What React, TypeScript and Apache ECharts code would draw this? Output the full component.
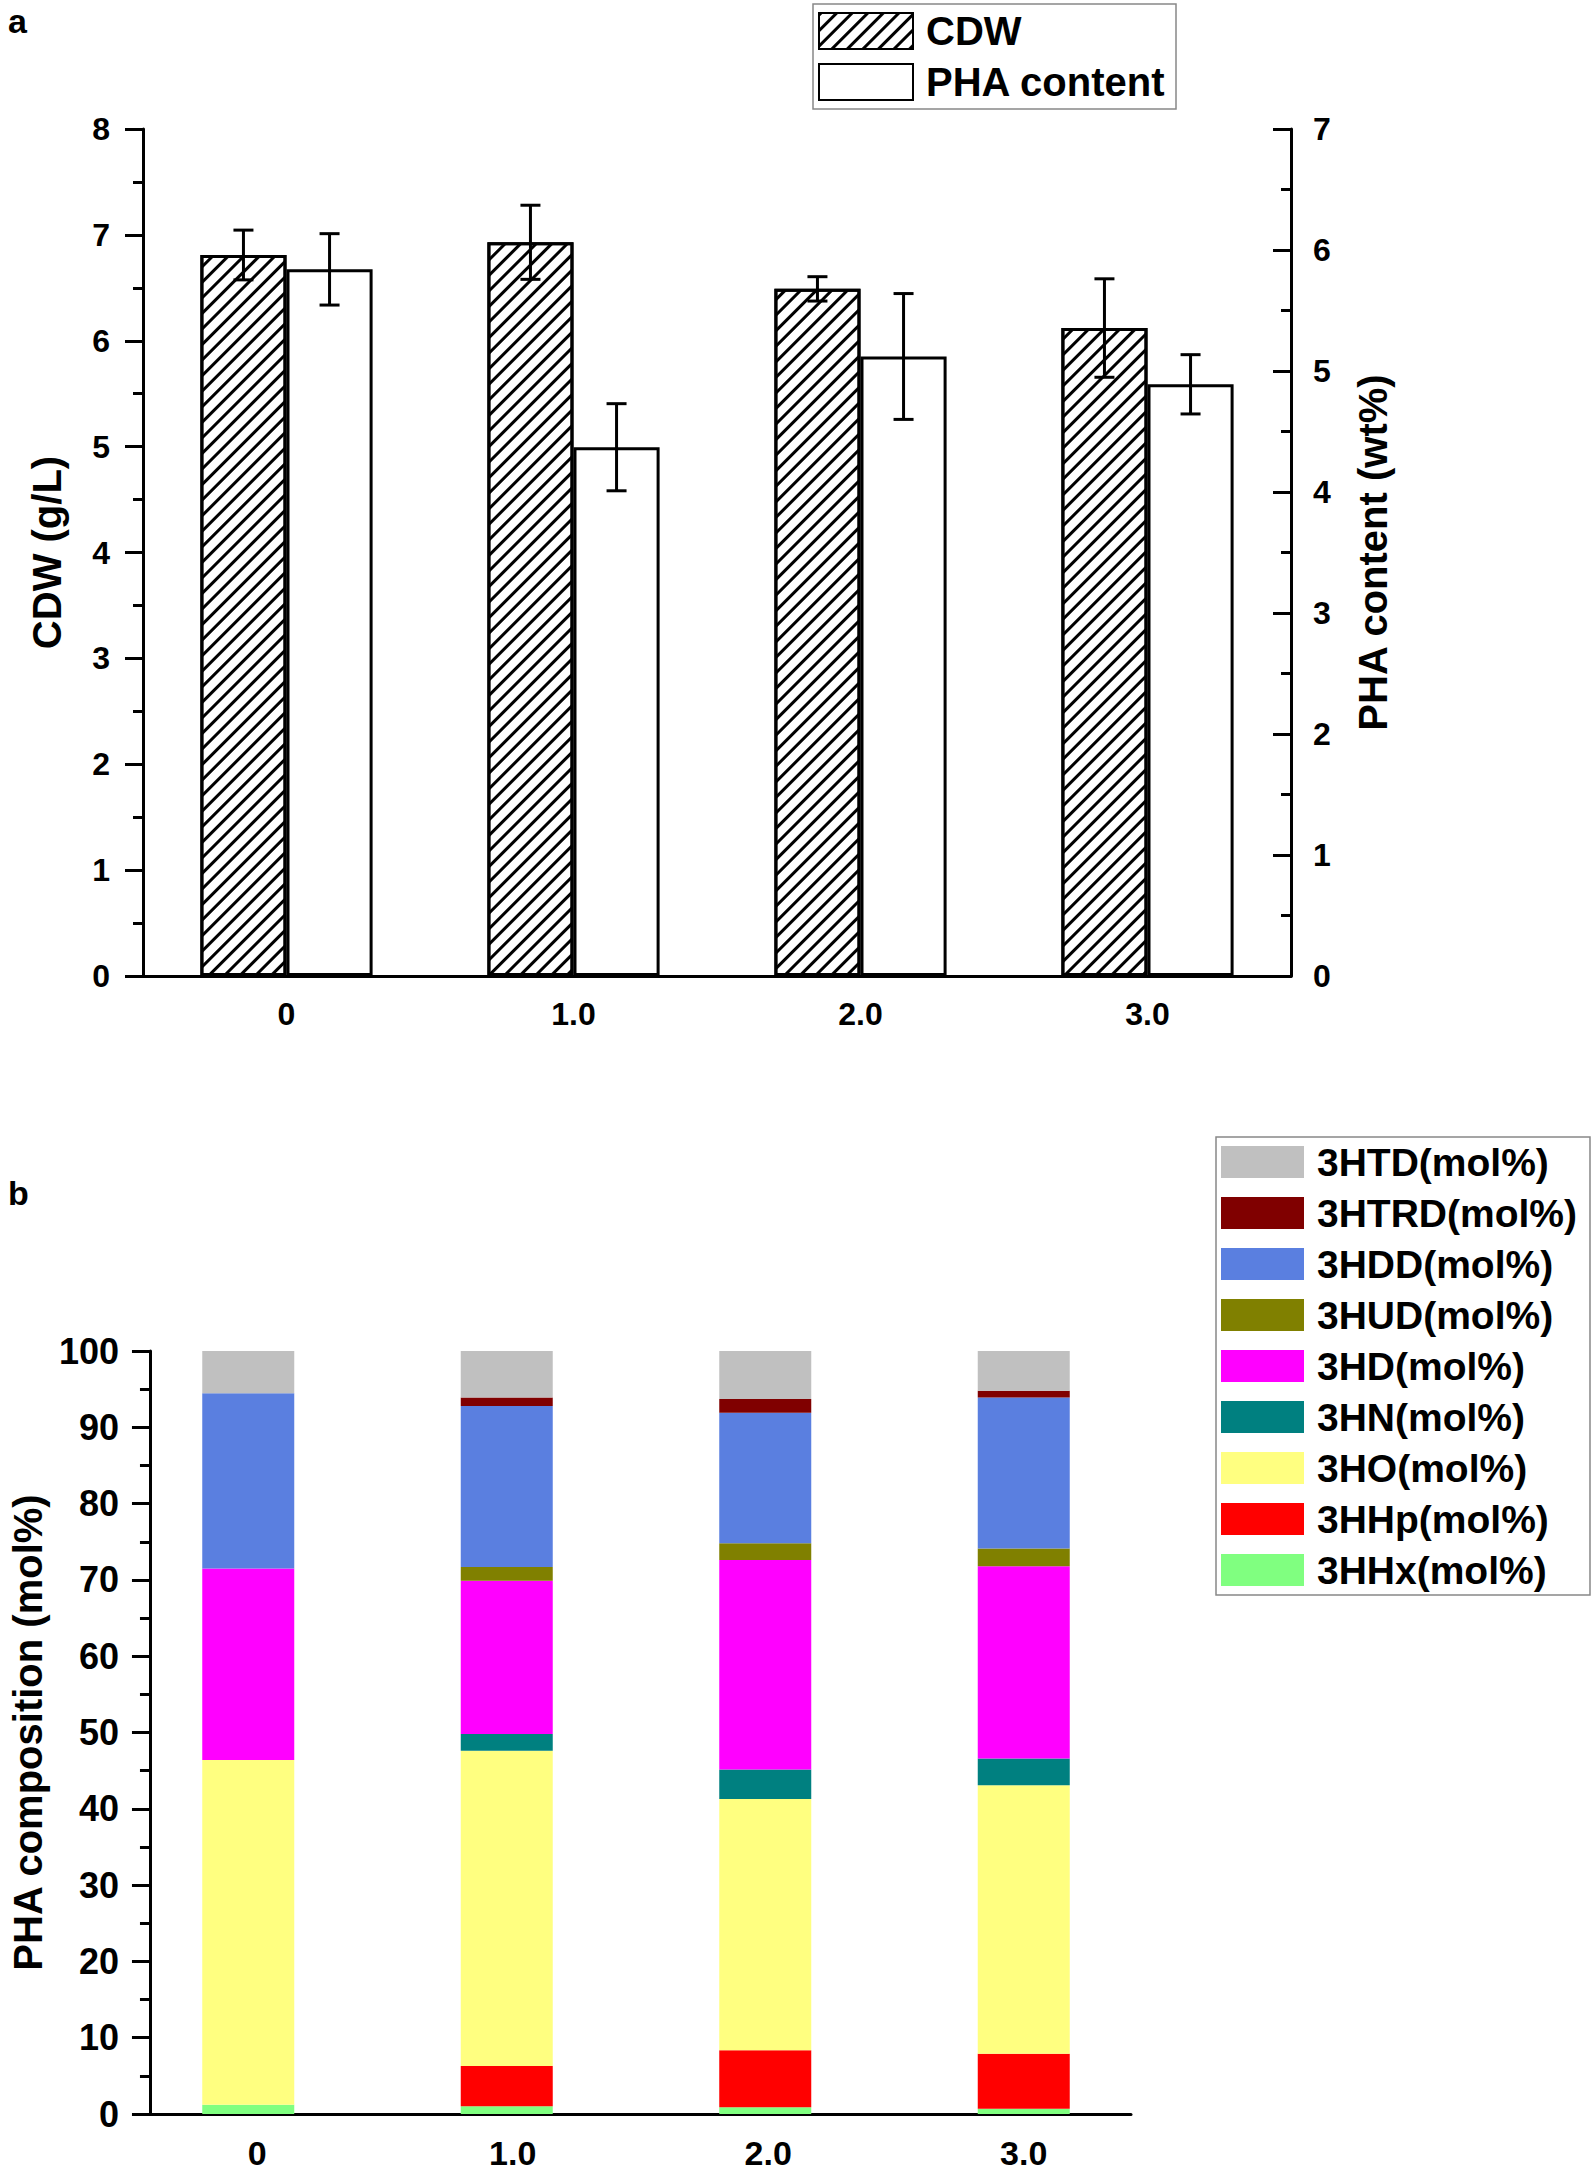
import React, { useEffect, useRef } from 'react';
import * as echarts from 'echarts';

// ---------- Panel a data ----------
const categoriesA = ['0', '1.0', '2.0', '3.0'];
const cdwValues = [6.81, 6.93, 6.49, 6.12];
const cdwErrors = [0.235, 0.35, 0.115, 0.465];
const phaValues = [5.84, 4.37, 5.12, 4.89];
const phaErrors = [0.295, 0.36, 0.52, 0.245];
const leftRangeA = [0, 8];
const rightRangeA = [0, 7];

// ---------- Panel b data ----------
const categoriesB = ['0', '1.0', '2.0', '3.0'];
const hhx = [1.2, 1.0, 0.9, 0.7];
const hhp = [0, 5.3, 7.45, 7.2];
const ho = [45.2, 41.3, 32.95, 35.2];
const hn = [0, 2.2, 3.85, 3.5];
const hd = [25.1, 20.1, 27.45, 25.2];
const hud = [0, 1.8, 2.2, 2.3];
const hdd = [22.95, 21.1, 17.1, 19.8];
const htrd = [0, 1.1, 1.8, 0.9];
const htd = [5.55, 6.1, 6.3, 5.2];
const namesB = ['3HHx(mol%)', '3HHp(mol%)', '3HO(mol%)', '3HN(mol%)', '3HD(mol%)', '3HUD(mol%)', '3HDD(mol%)', '3HTRD(mol%)', '3HTD(mol%)'];
const valuesB = [hhx, hhp, ho, hn, hd, hud, hdd, htrd, htd];
const colorsB = ['#80FF80', '#FF0000', '#FFFF80', '#008080', '#FF00FF', '#808000', '#5A7FE0', '#800000', '#C0C0C0'];
const rangeB = [0, 100];

const FONT = '"Liberation Sans", Arial, sans-serif';

function makeErrorRender(side: number) {
  return (params: any, api: any) => {
    const i = api.value(0);
    const v = api.value(1);
    const e = api.value(2);
    const band = api.size([1, 0])[0];
    const hi = api.coord([i, v + e]);
    const lo = api.coord([i, v - e]);
    const x = hi[0] + side * band * 0.15;
    const cap = 10;
    const style = { stroke: '#000', lineWidth: 3 };
    return {
      type: 'group',
      children: [
        { type: 'line', shape: { x1: x, y1: hi[1], x2: x, y2: lo[1] }, style },
        { type: 'line', shape: { x1: x - cap, y1: hi[1], x2: x + cap, y2: hi[1] }, style },
        { type: 'line', shape: { x1: x - cap, y1: lo[1], x2: x + cap, y2: lo[1] }, style },
      ],
    };
  };
}

export default function App() {
  const ref = useRef<HTMLDivElement>(null);
  useEffect(() => {
    if (!ref.current) return;
    const chart = echarts.init(ref.current, null, { renderer: 'svg' });
    const axisLine = { show: true, onZero: false, lineStyle: { color: '#000', width: 3 } };
    const tickLabel = (size: number, margin: number) => ({
      color: '#000', fontSize: size, fontWeight: 'bold', fontFamily: FONT, margin,
    });
    const nameStyle = { color: '#000', fontSize: 40, fontWeight: 'bold', fontFamily: FONT };
    const majorTick = (inside: boolean) => ({ show: true, inside, length: 18, lineStyle: { width: 3, color: '#000' } });
    const minorTick = { show: true, splitNumber: 2, length: 10, lineStyle: { width: 3, color: '#000' } };

    const hatch = {
      symbol: 'rect',
      symbolSize: 1,
      color: '#000',
      backgroundColor: '#fff',
      dashArrayX: [1, 0],
      dashArrayY: [3, 8],
      rotation: -Math.PI / 4,
    };

    const option: any = {
      animation: false,
      backgroundColor: '#fff',
      graphic: [
        { type: 'text', left: 8, top: 4, style: { text: 'a', fontSize: 34, fontWeight: 'bold', fontFamily: FONT, fill: '#000' } },
        { type: 'text', left: 8, top: 1176, style: { text: 'b', fontSize: 34, fontWeight: 'bold', fontFamily: FONT, fill: '#000' } },
      ],
      legend: [
        {
          data: ['CDW', 'PHA content'],
          orient: 'vertical',
          left: 813,
          top: 4,
          icon: 'rect',
          itemWidth: 94,
          itemHeight: 36,
          itemGap: 9,
          borderColor: '#888',
          borderWidth: 1.5,
          padding: [6, 10, 6, 5],
          textStyle: { color: '#000', fontSize: 40, fontWeight: 'bold', fontFamily: FONT, lineHeight: 42, padding: [0, 0, 0, 8] },
        },
        {
          data: namesB.slice().reverse(),
          orient: 'vertical',
          left: 1216,
          top: 1137,
          icon: 'rect',
          itemWidth: 83,
          itemHeight: 32,
          itemGap: 11,
          borderColor: '#888',
          borderWidth: 1.5,
          padding: [5, 13, 5, 5],
          textStyle: { color: '#000', fontSize: 39, fontWeight: 'bold', fontFamily: FONT, lineHeight: 40, padding: [0, 0, 0, 8] },
        },
      ],
      grid: [
        // panel a
        { left: 143, top: 129, width: 1148, height: 847 },
        // panel b: visible axes
        { left: 139, top: 1351, width: 992, height: 763 },
        // panel b: bars (category bands, axes hidden)
        { left: 119, top: 1351, width: 1034, height: 763 },
      ],
      xAxis: [
        {
          gridIndex: 0,
          type: 'category',
          data: categoriesA,
          boundaryGap: true,
          axisLine,
          axisTick: { show: false },
          axisLabel: tickLabel(32, 22),
        },
        {
          gridIndex: 1,
          type: 'value',
          min: -0.42,
          max: 3.42,
          axisLine,
          axisTick: { show: false },
          splitLine: { show: false },
          axisLabel: {
            ...tickLabel(34, 22),
            customValues: [0, 1, 2, 3],
            formatter: (v: number) => categoriesB[Math.round(v)],
          },
        },
        {
          gridIndex: 2,
          type: 'category',
          data: categoriesB,
          show: false,
        },
      ],
      yAxis: [
        {
          gridIndex: 0,
          type: 'value',
          min: leftRangeA[0],
          max: leftRangeA[1],
          interval: 1,
          position: 'left',
          name: 'CDW (g/L)',
          nameLocation: 'middle',
          nameGap: 76,
          nameRotate: 90,
          nameTextStyle: nameStyle,
          axisLine,
          axisTick: majorTick(false),
          minorTick,
          splitLine: { show: false },
          axisLabel: tickLabel(32, 33),
        },
        {
          gridIndex: 0,
          type: 'value',
          min: rightRangeA[0],
          max: rightRangeA[1],
          interval: 1,
          position: 'right',
          name: 'PHA content (wt%)',
          nameLocation: 'middle',
          nameGap: 62,
          nameRotate: 90,
          nameTextStyle: nameStyle,
          axisLine,
          axisTick: majorTick(true),
          minorTick,
          splitLine: { show: false },
          axisLabel: tickLabel(32, 22),
        },
        {
          gridIndex: 1,
          type: 'value',
          min: rangeB[0],
          max: rangeB[1],
          interval: 10,
          name: 'PHA composition (mol%)',
          nameLocation: 'middle',
          nameGap: 97,
          nameRotate: 90,
          nameTextStyle: nameStyle,
          axisLine,
          axisTick: majorTick(false),
          minorTick,
          splitLine: { show: false },
          axisLabel: tickLabel(36, 31),
        },
        {
          gridIndex: 2,
          type: 'value',
          min: rangeB[0],
          max: rangeB[1],
          show: false,
          splitLine: { show: false },
        },
      ],
      series: [
        {
          name: 'CDW',
          type: 'bar',
          xAxisIndex: 0,
          yAxisIndex: 0,
          data: cdwValues,
          barWidth: '30%',
          barGap: '0%',
          itemStyle: { color: '#fff', borderColor: '#000', borderWidth: 3, decal: hatch },
        },
        {
          name: 'PHA content',
          type: 'bar',
          xAxisIndex: 0,
          yAxisIndex: 1,
          data: phaValues,
          barWidth: '30%',
          barGap: '0%',
          itemStyle: { color: '#fff', borderColor: '#000', borderWidth: 3 },
        },
        {
          name: 'CDW error',
          type: 'custom',
          xAxisIndex: 0,
          yAxisIndex: 0,
          z: 5,
          data: cdwValues.map((v, i) => [i, v, cdwErrors[i]]),
          encode: { x: 0, y: 1 },
          renderItem: makeErrorRender(-1),
        },
        {
          name: 'PHA error',
          type: 'custom',
          xAxisIndex: 0,
          yAxisIndex: 1,
          z: 5,
          data: phaValues.map((v, i) => [i, v, phaErrors[i]]),
          encode: { x: 0, y: 1 },
          renderItem: makeErrorRender(1),
        },
        ...namesB.map((name, k) => ({
          name,
          type: 'bar',
          xAxisIndex: 2,
          yAxisIndex: 3,
          stack: 'composition',
          barWidth: 92,
          data: valuesB[k],
          itemStyle: { color: colorsB[k] },
        })),
      ],
    };
    chart.setOption(option);
    return () => chart.dispose();
  }, []);
  return <div ref={ref} style={{ position: 'absolute', left: 0, top: 0, width: 1595, height: 2173 }} />;
}
